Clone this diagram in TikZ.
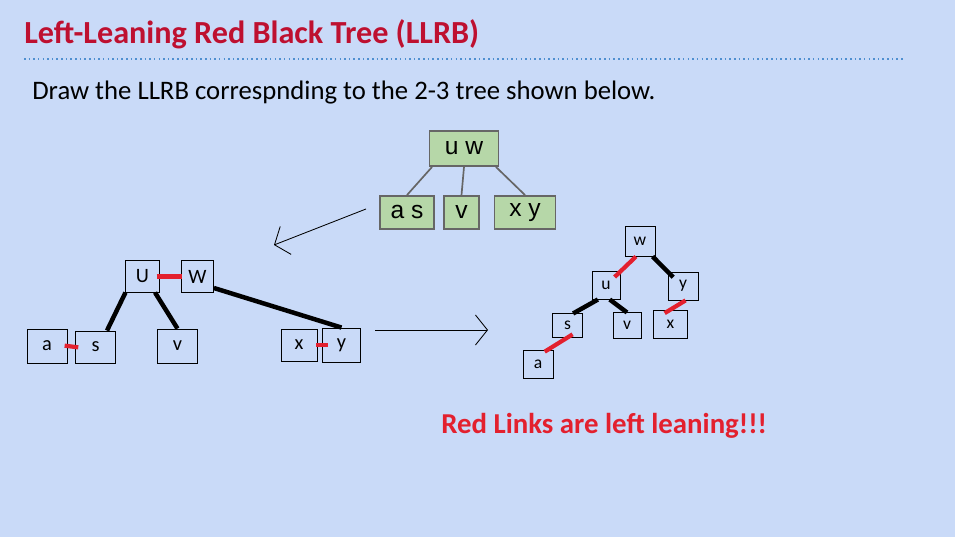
\documentclass[tikz,border=0pt]{standalone}
\usepackage{fontspec}
\setmainfont{Carlito}
\newfontfamily\arialfont{Liberation Sans}
\usetikzlibrary{arrows.meta, positioning}
\definecolor{slidebg}{HTML}{C9DAF8}
\definecolor{titlered}{HTML}{BE1030}
\definecolor{linkred}{HTML}{E3202E}
\definecolor{rulerblue}{HTML}{4F8FD0}
\definecolor{nodegreen}{HTML}{B6D7A8}
\definecolor{nodegray}{HTML}{666666}

\begin{document}
\begin{tikzpicture}[x=0.025cm, y=-0.025cm, >={Straight Barb[length=3mm, width=7.5mm]}]
    \tikzstyle{twothree} = [rectangle, draw=nodegray, fill=nodegreen, line width=1.2pt, minimum height=0.83cm, inner sep=0pt, font=\arialfont\fontsize{17.5}{20}\selectfont]
    \tikzstyle{lbox} = [rectangle, draw=black, line width=0.6pt, inner sep=0pt, font=\fontsize{14.5}{17}\selectfont]
    \tikzstyle{rbox} = [rectangle, draw=black, line width=0.6pt, inner sep=0pt, font=\fontsize{12.5}{15}\selectfont]
    \tikzstyle{redlink} = [draw=linkred, line width=3pt]
    \tikzstyle{blacklink} = [draw=black, line width=3.2pt]

    \fill [slidebg] (0,0) rectangle (955,537);
    \useasboundingbox (0,0) rectangle (955,537);

    \node [anchor=base west, text=titlered, font=\bfseries\fontsize{22.9}{26}\selectfont, inner sep=0pt] (title) at (24,44) {Left-Leaning Red Black Tree (LLRB)};
    \coordinate (rulestart) at (24,59);
    \coordinate (ruleend) at (905,59);
    \draw [rulerblue, line width=1.1pt, dash pattern=on 1.1pt off 2.2pt] (rulestart) -- (ruleend);
    \node [anchor=base west, font=\fontsize{19}{22}\selectfont, inner sep=0pt] (task) at (32,100) {Draw the LLRB correspnding to the 2-3 tree shown below.};

    % 2-3 tree
    \node [twothree, minimum width=1.72cm, minimum height=0.88cm] (uw) at (464,148.5) {u w};
    \node [twothree, minimum width=1.35cm] (as) at (407,212.5) {a s};
    \node [twothree, minimum width=0.88cm] (v23) at (461.5,212.5) {v};
    \node [twothree, minimum width=1.53cm] (xy) at (525,212.5) {x y};
    \path [draw=nodegray, line width=1.2pt] (uw.-150) -- (as.north);
    \path [draw=nodegray, line width=1.2pt] (uw.south) -- (v23.north);
    \path [draw=nodegray, line width=1.2pt] (uw.-30) -- (xy.north);

    \coordinate (downstart) at (366,209);
    \coordinate (downend) at (274,245);
    \draw [->, line width=0.6pt] (downstart) -- (downend);

    % split nodes
    \node [lbox, minimum width=0.83cm, minimum height=0.78cm] (U) at (142.5,276.5) {U};
    \node [lbox, minimum width=0.8cm, minimum height=0.78cm] (W) at (197.5,276.5) {W};
    \node [lbox, minimum width=1cm, minimum height=0.85cm] (la) at (47,346) {a};
    \node [lbox, minimum width=0.98cm, minimum height=0.8cm] (ls) at (95.5,347) {s};
    \node [lbox, minimum width=0.98cm, minimum height=0.85cm] (lv) at (177.5,346) {v};
    \node [lbox, minimum width=0.9cm, minimum height=0.8cm] (lx) at (299,345) {x};
    \node [lbox, minimum width=0.93cm, minimum height=0.85cm] (ly) at (341.5,345) {y};

    \path [redlink, shorten <=-2pt, shorten >=-1pt] (U.east) -- (W.west);
    \path [redlink, shorten <=-2pt, shorten >=-2pt] (la.east) -- (ls.west);
    \path [redlink, shorten <=-1pt, shorten >=-4pt] (lx.east) -- (ly.west);
    \path [blacklink] (U.south west) -- (ls.55);
    \path [blacklink] (U.-52) -- (lv.north);
    \path [blacklink] (W.-35) -- (ly.north);

    \coordinate (rightstart) at (375,330);
    \coordinate (rightend) at (488,330);
    \draw [->, line width=0.6pt] (rightstart) -- (rightend);

    % LLRB
    \node [rbox, minimum width=0.75cm, minimum height=0.73cm] (rw) at (640,241.5) {w};
    \node [rbox, minimum width=0.7cm, minimum height=0.68cm] (ru) at (606,285.5) {u};
    \node [rbox, minimum width=0.75cm, minimum height=0.7cm] (ry) at (683,286) {y};
    \node [rbox, minimum width=0.73cm, minimum height=0.58cm] (rs) at (567.5,325.5) {s};
    \node [rbox, minimum width=0.7cm, minimum height=0.63cm] (rv) at (627,325.5) {v};
    \node [rbox, minimum width=0.83cm, minimum height=0.7cm] (rx) at (670.5,324) {x};
    \node [rbox, minimum width=0.75cm, minimum height=0.7cm] (ra) at (538,364) {a};

    \path [redlink, shorten >=-0.2cm] (rw.-105) -- (ru.north east);
    \path [blacklink, shorten >=-0.2cm] (rw.-50) -- (ry.north west);
    \path [blacklink] (ru.-120) -- (rs.65);
    \path [blacklink] (ru.-75) -- (rv.north);
    \path [redlink, shorten >=-0.17cm] (ry.-80) -- (rx.north);
    \path [redlink, shorten <=-0.15cm, shorten >=-0.1cm] (rs.south) -- (ra.55);

    \node [anchor=base west, text=linkred, font=\bfseries\fontsize{20.5}{24}\selectfont, inner sep=0pt] (note) at (441,434) {Red Links are left leaning!!!};
\end{tikzpicture}
\end{document}
